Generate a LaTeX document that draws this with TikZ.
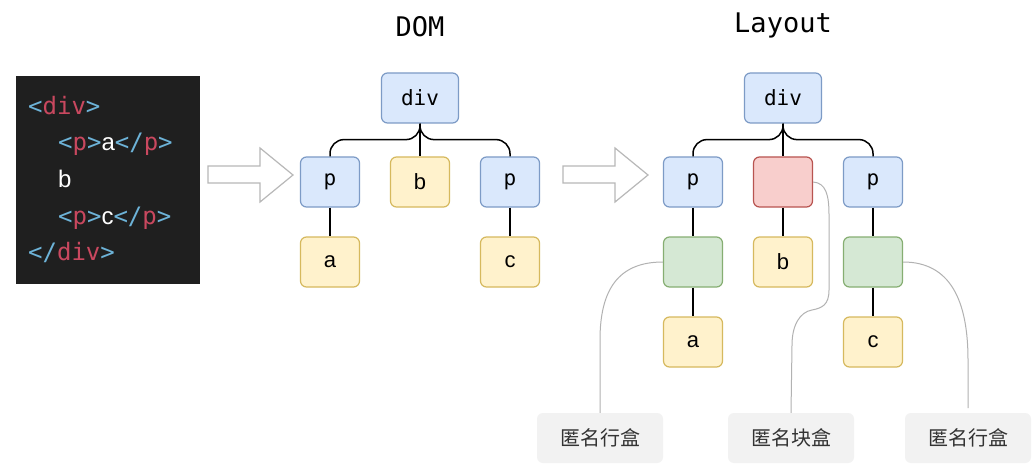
\documentclass[tikz,border=0pt]{standalone}
\usepackage{fontspec}
\setmainfont{Liberation Sans}
\setmonofont{DejaVu Sans Mono}
\newfontfamily\cjk{Noto Sans CJK SC}
\definecolor{bluef}{HTML}{DAE8FC}
\definecolor{blued}{HTML}{7D9BC6}
\definecolor{yelf}{HTML}{FFF2CC}
\definecolor{yeld}{HTML}{D6B95E}
\definecolor{redf}{HTML}{F8CECC}
\definecolor{redd}{HTML}{B85450}
\definecolor{grnf}{HTML}{D5E8D4}
\definecolor{grnd}{HTML}{86AE72}
\definecolor{codebg}{HTML}{1F1F1F}
\definecolor{codebr}{HTML}{6DB3D8}
\definecolor{codetag}{HTML}{C9485F}
\definecolor{lblbg}{HTML}{F2F2F2}
\newcommand{\cbr}[1]{\textcolor{codebr}{#1}}
\newcommand{\ctg}[1]{\textcolor{codetag}{#1}}
\begin{document}
\begin{tikzpicture}[x=1pt,y=-1pt,
  box/.style={rounded corners=6pt, minimum width=59pt, minimum height=50pt, inner sep=0pt, line width=1.2pt},
  bluebox/.style={box, fill=bluef, draw=blued, font=\ttfamily\fontsize{21}{24}\selectfont},
  yelbox/.style={box, fill=yelf, draw=yeld, font=\fontsize{22}{24}\selectfont},
  redbox/.style={box, fill=redf, draw=redd},
  grnbox/.style={box, fill=grnf, draw=grnd},
  conn/.style={line width=1.5pt, black, rounded corners=14pt},
  anno/.style={line width=1pt, black!30},
  lbl/.style={fill=lblbg, rounded corners=6pt, minimum width=126pt, minimum height=50pt, inner sep=0pt, font=\cjk\fontsize{20}{24}\selectfont, text=black!80},
  codeline/.style={anchor=base west, inner sep=0pt, text=white, font=\ttfamily\fontsize{24}{28}\selectfont},
  title/.style={anchor=base, inner sep=0pt, font=\ttfamily\fontsize{27}{30}\selectfont},
  hollow/.style={draw=black!28, fill=white, line width=1.2pt, line join=miter}
]
\useasboundingbox (0,0) rectangle (1035,473);
\fill[white] (0,0) rectangle (1035,473);

% code panel
\node[fill=codebg, minimum width=184pt, minimum height=208pt, inner sep=0pt] (code) at (108,180) {};
\node[codeline] (c1) at (28,115) {\cbr{<}\ctg{div}\cbr{>}};
\node[codeline] (c2) at (58,151) {\cbr{<}\ctg{p}\cbr{>}{\rmfamily a}\cbr{</}\ctg{p}\cbr{>}};
\node[codeline] (c3) at (58,188) {{\rmfamily b}};
\node[codeline] (c4) at (58,224) {\cbr{<}\ctg{p}\cbr{>}{\rmfamily c}\cbr{</}\ctg{p}\cbr{>}};
\node[codeline] (c5) at (28,260) {\cbr{</}\ctg{div}\cbr{>}};

% hollow arrows
\draw[hollow] (208,166) -- (260,166) -- (260,148) -- (293,175) -- (260,202) -- (260,183) -- (208,183) -- cycle;
\draw[hollow] (563,166) -- (615,166) -- (615,148) -- (648,175) -- (615,202) -- (615,183) -- (563,183) -- cycle;

% titles
\node[title] (tdom) at (420,37) {DOM};
\node[title] (tlay) at (783,33) {Layout};

% DOM tree
\node[bluebox, minimum width=77pt] (ddiv) at (420,98) {div};
\node[bluebox] (dp1) at (330,182) {p};
\node[yelbox] (db) at (420,182) {b};
\node[bluebox] (dp2) at (510,182) {p};
\node[yelbox] (da) at (330,262) {a};
\node[yelbox] (dc) at (510,262) {c};
\draw[conn] (ddiv.south) -- ++(0,16) -| (dp1.north);
\draw[conn] (ddiv.south) -- ++(0,16) -| (dp2.north);
\draw[conn] (ddiv.south) -- (db.north);
\draw[conn] (dp1.south) -- (da.north);
\draw[conn] (dp2.south) -- (dc.north);

% Layout tree
\node[bluebox, minimum width=77pt] (ldiv) at (783,98) {div};
\node[bluebox] (lp1) at (693,182) {p};
\node[redbox] (lanon) at (783,182) {};
\node[bluebox] (lp2) at (873,182) {p};
\node[grnbox] (lg1) at (693,262) {};
\node[yelbox] (lb) at (783,262) {b};
\node[grnbox] (lg2) at (873,262) {};
\node[yelbox] (la) at (693,342) {a};
\node[yelbox] (lc) at (873,342) {c};
\draw[conn] (ldiv.south) -- ++(0,16) -| (lp1.north);
\draw[conn] (ldiv.south) -- ++(0,16) -| (lp2.north);
\draw[conn] (ldiv.south) -- (lanon.north);
\draw[conn] (lp1.south) -- (lg1.north);
\draw[conn] (lanon.south) -- (lb.north);
\draw[conn] (lp2.south) -- (lg2.north);
\draw[conn] (lg1.south) -- (la.north);
\draw[conn] (lg2.south) -- (lc.north);

% labels
\node[lbl] (n1) at (600,438) {匿名行盒};
\node[lbl] (n2) at (791,438) {匿名块盒};
\node[lbl] (n3) at (968,438) {匿名行盒};

% annotation curves
\draw[anno] (lg1.west) .. controls (618,262) and (600,290) .. (600,340) -- (n1.north);
\draw[anno] (lanon.east) .. controls (826,183) and (829,195) .. (829,215) -- (829,290)
  .. controls (829,305) and (822,308) .. (812,310) .. controls (800,312) and (792,325) .. (792,345) -- (n2.north);
\coordinate (n3top) at (968,408);
\draw[anno] (lg2.east) .. controls (950,262) and (968,300) .. (968,360) -- (n3top);
\end{tikzpicture}
\end{document}
